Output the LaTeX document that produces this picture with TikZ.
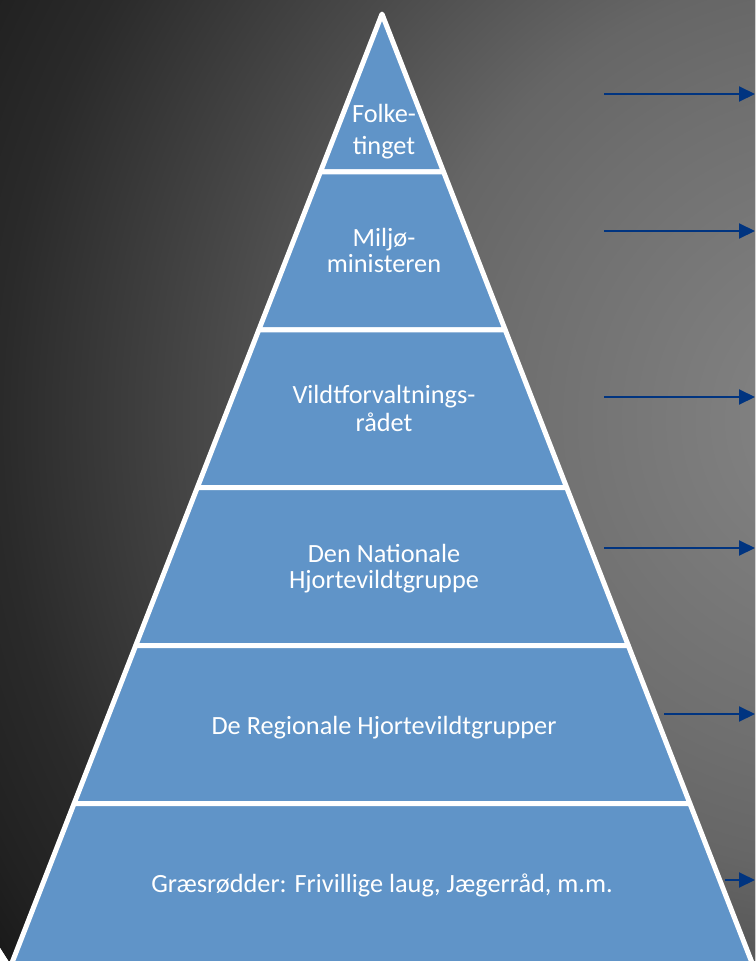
\documentclass[tikz,border=0pt]{standalone}
\usepackage{fontspec}
\setmainfont{Carlito}
\usepackage{tikz}
\usetikzlibrary{arrows.meta}

\definecolor{tierblue}{RGB}{96,148,200}
\definecolor{arrowblue}{RGB}{0,52,128}
\definecolor{glowA}{gray}{0.54}
\definecolor{glowB}{gray}{0.50}
\definecolor{glowC}{gray}{0.435}
\definecolor{glowD}{gray}{0.40}
\definecolor{glowE}{gray}{0.29}
\definecolor{glowF}{gray}{0.165}
\definecolor{glowG}{gray}{0.13}
\definecolor{glowH}{gray}{0.105}

% the path's box spans 25bp of radius
\pgfdeclareradialshading{bgglow}{\pgfpointorigin}{color(0bp)=(glowA); color(2.4bp)=(glowB); color(8.5bp)=(glowC); color(11.25bp)=(glowD); color(15.75bp)=(glowE); color(21.25bp)=(glowF); color(23.75bp)=(glowG); color(25bp)=(glowH); color(50bp)=(glowH)}

\begin{document}
\begin{tikzpicture}[
    x=1pt, y=-1pt,
    tier/.style={fill=tierblue, draw=white, line width=5pt, line join=round},
    lbl/.style={anchor=base, text=white, align=center, font=\fontsize{26.3}{26}\selectfont},
    arrow/.style={-{Triangle[length=16pt, width=15pt]}, line width=2pt, draw=arrowblue}
    ]

    % Background
    \useasboundingbox (0,0) rectangle (755,961);
    \clip (0,0) rectangle (755,961);
    \fill[shading=bgglow] (850,420) circle (1000pt);

    % Tiers
    \foreach \k in {0,...,5} {
        \pgfmathsetmacro\ytop{14+157.9*\k}
        \pgfmathsetmacro\ybot{\k==5 ? 975 : \ytop+157.9}
        \pgfmathsetmacro\wtop{0.39*(\ytop-14)}
        \pgfmathsetmacro\wbot{0.39*(\ybot-14)}
        \draw[tier] (382-\wtop,\ytop) -- (382+\wtop,\ytop) -- (382+\wbot,\ybot) -- (382-\wbot,\ybot) -- cycle;
    }

    % Nodes (anchored on the last baseline)
    \node[lbl] (folke) at (384,154) {Folke-\\[6pt]tinget};
    \node[lbl] (miljo) at (384,272) {Miljø-\\ministeren};
    \node[lbl] (vildt) at (384,431) {Vildtforvaltnings-\\[2pt]rådet};
    \node[lbl] (natio) at (384,588) {Den Nationale\\Hjortevildtgruppe};
    \node[lbl] (regio) at (384,734) {De Regionale Hjortevildtgrupper};
    \node[lbl] (graes) at (382,892) {Græsrødder: Frivillige laug, Jægerråd, m.m.};

    % Arrow ends
    \coordinate (folkeA) at (604,94);   \coordinate (folkeB) at (755,94);
    \coordinate (miljoA) at (604,231);  \coordinate (miljoB) at (755,231);
    \coordinate (vildtA) at (604,397);  \coordinate (vildtB) at (755,397);
    \coordinate (natioA) at (604,548);  \coordinate (natioB) at (755,548);
    \coordinate (regioA) at (664,714);  \coordinate (regioB) at (755,714);
    \coordinate (graesA) at (725,880);  \coordinate (graesB) at (755,880);

    % Arrows
    \draw[arrow] (folkeA) -- (folkeB);
    \draw[arrow] (miljoA) -- (miljoB);
    \draw[arrow] (vildtA) -- (vildtB);
    \draw[arrow] (natioA) -- (natioB);
    \draw[arrow] (regioA) -- (regioB);
    \draw[arrow] (graesA) -- (graesB);
\end{tikzpicture}
\end{document}
